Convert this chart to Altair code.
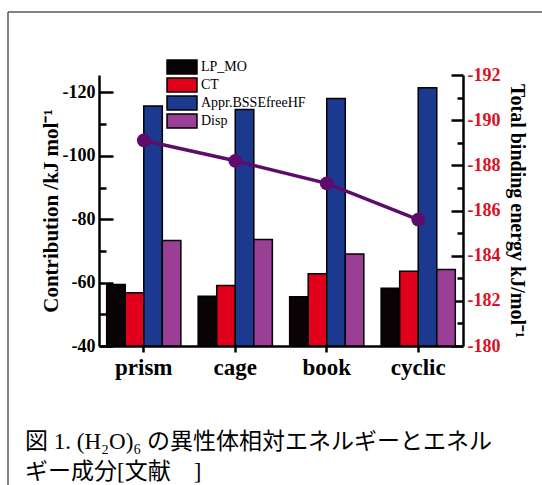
import altair as alt
import pandas as pd

# Water hexamer isomers and their energy decomposition (kJ/mol)
categories = ["prism", "cage", "book", "cyclic"]
components = ["LP_MO", "CT", "Appr.BSSEfreeHF", "Disp"]
lp_mo = [-59.4, -55.7, -55.5, -58.2]
ct = [-56.8, -59.1, -62.8, -63.6]
appr_bssefree_hf = [-115.7, -114.6, -118.1, -121.5]
disp = [-73.3, -73.6, -69.0, -64.1]
total_binding = [-189.1, -188.2, -187.2, -185.6]

caption_lines = ["図 1. (H₂O)₆ の異性体相対エネルギーとエネル", "ギー成分[文献　]"]

bar_colors = ["#0a0305", "#e1001c", "#1b3a8f", "#9b3f96"]
line_color = "#5e0c6b"

left_ticks = [-40, -50, -60, -70, -80, -90, -100, -110, -120]
right_ticks = [-180, -181, -182, -183, -184, -185, -186, -187, -188, -189, -190, -191, -192]

series = [lp_mo, ct, appr_bssefree_hf, disp]
bars_df = pd.DataFrame(
    [
        {"isomer": cat, "component": comp, "value": vals[i]}
        for comp, vals in zip(components, series)
        for i, cat in enumerate(categories)
    ]
)
line_df = pd.DataFrame({"isomer": categories, "total": total_binding})

SERIF = "Liberation Serif"
W, H = 364, 271
PAD_L, PAD_T = 99, 75

x_scale = alt.Scale(domain=categories, paddingInner=0.189, paddingOuter=0.084)
x_axis = alt.Axis(
    title=None,
    labelFont=SERIF,
    labelFontSize=23,
    labelFontWeight="bold",
    labelColor="black",
    labelPadding=4,
    labelAngle=0,
    tickSize=6,
)

bars = (
    alt.Chart(bars_df)
    .mark_bar(stroke="black", strokeWidth=1.5)
    .encode(
        x=alt.X("isomer:N", sort=categories, scale=x_scale, axis=x_axis),
        xOffset=alt.XOffset("component:N", sort=components, scale=alt.Scale(paddingInner=0, paddingOuter=0)),
        y=alt.Y(
            "value:Q",
            scale=alt.Scale(domain=[-40, -125.5], nice=False, zero=False),
            axis=alt.Axis(
                orient="left",
                values=left_ticks,
                title="Contribution /kJ mol⁻¹",
                titleFont=SERIF,
                titleFontSize=21,
                titleFontWeight="bold",
                titleColor="black",
                titlePadding=1,
                labelFont=SERIF,
                labelFontSize=18,
                labelFontWeight="bold",
                labelColor="black",
                labelExpr="datum.value % 20 === 0 ? '-' + abs(datum.value) : ''",
                labelPadding=18,
                tickSize={"expr": "datum.value % 20 === 0 ? -14 : -7"},
            ),
        ),
        y2=alt.datum(-40),
        color=alt.Color(
            "component:N",
            sort=components,
            scale=alt.Scale(domain=components, range=bar_colors),
            legend=alt.Legend(title=None),
        ),
    )
)

line = (
    alt.Chart(line_df)
    .mark_line(
        color=line_color,
        strokeWidth=3.5,
        point=alt.OverlayMarkDef(filled=True, size=190, color=line_color, opacity=1),
    )
    .encode(
        x=alt.X("isomer:N", sort=categories, scale=x_scale, axis=x_axis),
        y=alt.Y(
            "total:Q",
            scale=alt.Scale(domain=[-180, -192], nice=False, zero=False),
            axis=alt.Axis(
                orient="right",
                values=right_ticks,
                title="Total binding energy kJ/mol⁻¹",
                titleFont=SERIF,
                titleFontSize=20,
                titleFontWeight="bold",
                titleColor="black",
                titlePadding=7,
                labelFont=SERIF,
                labelFontSize=18,
                labelFontWeight="bold",
                labelColor="#d8101f",
                labelExpr="datum.value % 2 === 0 ? '-' + abs(datum.value) : ''",
                labelPadding=16,
                tickSize={"expr": "datum.value % 2 === 0 ? -12 : -6"},
            ),
        ),
    )
)

# Thin frame around the figure (top and left edges) and the caption below the plot
one_row = alt.Data(values=[{}])
frame_left = alt.Chart(one_row).mark_rule(color="#5a5a5a", strokeWidth=1.5).encode(
    x=alt.value(-91), y=alt.value(-63), y2=alt.value(410)
)
frame_top = alt.Chart(one_row).mark_rule(color="#5a5a5a", strokeWidth=1.5).encode(
    x=alt.value(-91), x2=alt.value(443), y=alt.value(-63)
)
caption = alt.Chart(one_row).mark_text(
    align="left",
    baseline="top",
    font="Liberation Serif, Noto Sans CJK JP",
    fontSize=23,
    lineHeight=30,
    color="black",
).encode(x=alt.value(-74), y=alt.value(356), text=alt.value(caption_lines))

chart = (
    alt.layer(frame_left, frame_top, caption, bars, line)
    .resolve_scale(y="independent")
    .properties(
        width=W,
        height=H,
        autosize=alt.AutoSizeParams(type="none"),
        padding={"left": PAD_L, "top": PAD_T, "right": 542 - PAD_L - W, "bottom": 485 - PAD_T - H},
        background="white",
    )
    .configure_view(stroke=None)
    .configure_axis(
        domainColor="black",
        domainWidth=2.5,
        tickColor="black",
        tickWidth=2.5,
        grid=False,
    )
    .configure_legend(
        orient="none",
        legendX=75,
        legendY=-16,
        padding=0,
        symbolType="M-2.14,-1L2.14,-1L2.14,1L-2.14,1Z",
        symbolSize=196,
        symbolStrokeColor="black",
        symbolStrokeWidth=1.5,
        symbolOpacity=1,
        labelFont=SERIF,
        labelFontSize=14,
        labelColor="black",
        labelOffset=11,
        rowPadding=-2,
    )
)

chart.save("out.html", embed_options={"renderer": "svg", "actions": False})
